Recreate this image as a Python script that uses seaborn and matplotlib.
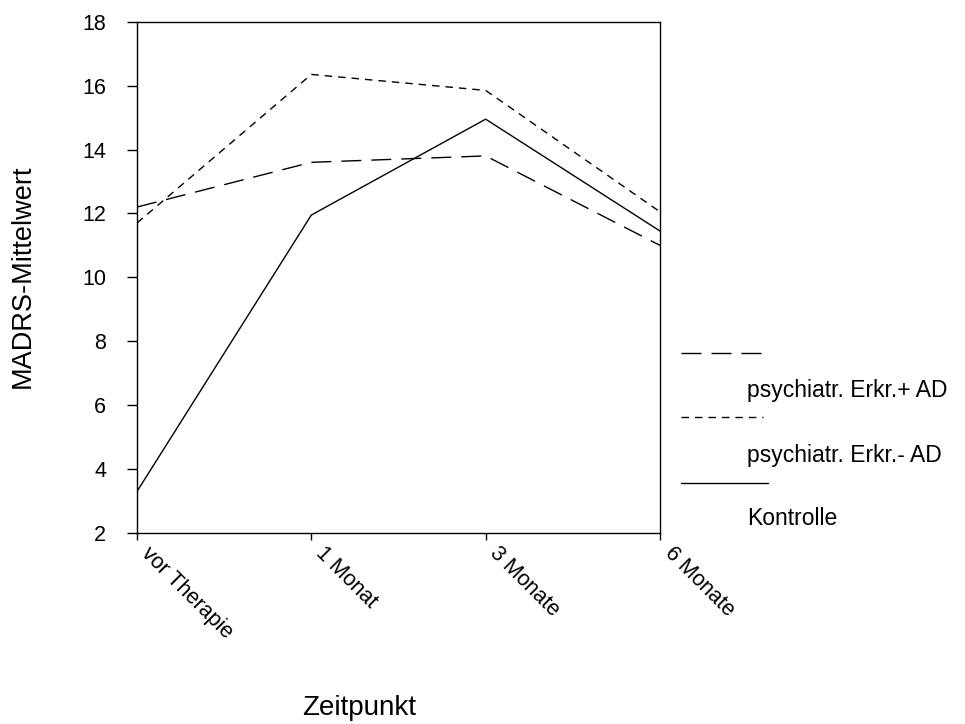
import matplotlib
matplotlib.use("Agg")
import matplotlib.pyplot as plt
import seaborn as sns
import pandas as pd
from matplotlib.lines import Line2D

zeitpunkte = ["vor Therapie", "1 Monat", "3 Monate", "6 Monate"]
gruppen = ["psychiatr. Erkr.+ AD", "psychiatr. Erkr.- AD", "Kontrolle"]
werte_plus_ad = [12.2, 13.6, 13.8, 11.0]
werte_minus_ad = [11.7, 16.35, 15.85, 12.05]
werte_kontrolle = [3.3, 11.95, 14.95, 11.45]
y_ticks = [2, 4, 6, 8, 10, 12, 14, 16, 18]

rows = []
for g, vals in zip(gruppen, [werte_plus_ad, werte_minus_ad, werte_kontrolle]):
    for i, v in enumerate(vals):
        rows.append({"Zeitpunkt": i, "Gruppe": g, "Wert": v})
df = pd.DataFrame(rows)

sns.set_style("white")
plt.rcParams["font.family"] = ["Liberation Sans", "DejaVu Sans"]
plt.rcParams["text.color"] = "black"
plt.rcParams["axes.labelcolor"] = "black"
plt.rcParams["xtick.color"] = "black"
plt.rcParams["ytick.color"] = "black"

W, H = 965, 724
fig = plt.figure(figsize=(W/100, H/100), dpi=100)
ax = fig.add_axes([137/W, 1-533/H, (660-137)/W, (533-21.7)/H])

dash_styles = {gruppen[0]: (14.4, 7.2), gruppen[1]: (5.4, 4.3), gruppen[2]: ""}
sns.lineplot(data=df, x="Zeitpunkt", y="Wert", style="Gruppe", dashes=dash_styles,
             color="black", linewidth=1.0, legend=False, ax=ax)

ax.set_xlim(0, 3)
ax.set_ylim(2, 18)
ax.set_yticks(y_ticks)
ax.set_xticks(range(len(zeitpunkte)))
ax.set_xticklabels(zeitpunkte, rotation=-45, ha="left", va="bottom", rotation_mode="anchor")
ax.tick_params(axis="y", direction="out", length=7.2, width=1, labelsize=15.5, pad=15,
               left=True, right=False)
ax.tick_params(axis="x", direction="out", length=5, width=1, labelsize=15.5, pad=13,
               bottom=True, top=False)
for s in ax.spines.values():
    s.set_color("black")
    s.set_linewidth(1.0)
ax.set_xlabel("")
ax.set_ylabel("")
fig.text(23/W, 1-276/H, "MADRS-Mittelwert", rotation=90, ha="center", va="center", fontsize=19.5)
fig.text(302/W, 1-715/H, "Zeitpunkt", ha="left", va="baseline", fontsize=20)

# custom legend (line sample above its label)
leg_lines = [(681, 761, 352.7), (681, 763, 417), (681, 768, 483)]
leg_baselines = [397, 462, 525]
for (x0, x1, yl), g, yb in zip(leg_lines, gruppen, leg_baselines):
    ln = Line2D([x0/W, x1/W], [1-yl/H, 1-yl/H], transform=fig.transFigure,
                color="black", linewidth=1.0)
    d = dash_styles[g]
    if d:
        ln.set_dashes(d)
    fig.add_artist(ln)
    fig.text(747/W, 1-yb/H, g, ha="left", va="baseline", fontsize=16.5)

fig.savefig("out.png", dpi=100)
